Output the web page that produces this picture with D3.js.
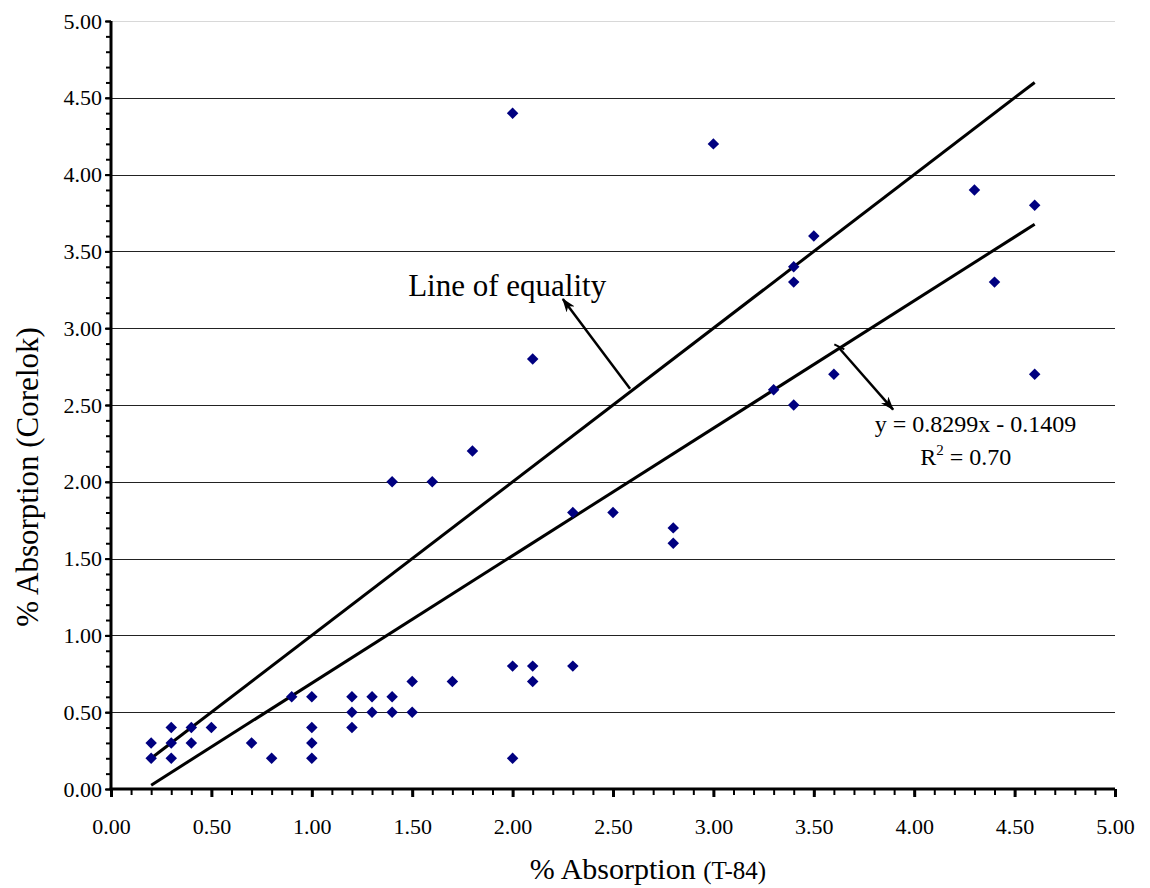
<!DOCTYPE html>
<html>
<head>
<meta charset="utf-8">
<script src="https://cdn.jsdelivr.net/npm/d3@7"></script>
<style>
  body { margin: 0; background: #fff; }
  text { font-family: "Liberation Serif", "Times New Roman", serif; fill: #000; }
</style>
</head>
<body>
<div id="chart"></div>
<script>
// measured values (% absorption, T-84 vs Corelok)
var t84 = [0.2, 0.2, 0.3, 0.3, 0.3, 0.4, 0.4, 0.5, 0.7, 0.8, 0.9, 1.0, 1.0, 1.0, 1.0,
           1.2, 1.2, 1.2, 1.3, 1.3, 1.4, 1.4, 1.5, 1.5, 1.7, 2.0, 2.0, 2.1, 2.1, 2.3,
           2.0, 3.0, 4.3, 4.6, 3.5, 3.4, 3.4, 4.4, 2.1, 3.6, 4.6, 3.3, 3.4, 1.8, 1.4,
           1.6, 2.3, 2.5, 2.8, 2.8];
var corelok = [0.3, 0.2, 0.4, 0.3, 0.2, 0.4, 0.3, 0.4, 0.3, 0.2, 0.6, 0.6, 0.4, 0.3, 0.2,
               0.6, 0.5, 0.4, 0.6, 0.5, 0.6, 0.5, 0.7, 0.5, 0.7, 0.8, 0.2, 0.8, 0.7, 0.8,
               4.4, 4.2, 3.9, 3.8, 3.6, 3.4, 3.3, 3.3, 2.8, 2.7, 2.7, 2.6, 2.5, 2.2, 2.0,
               2.0, 1.8, 1.8, 1.7, 1.6];
var slope = 0.8299, intercept = -0.1409;
var lineRange = [0.2, 4.6];
var tickLabels = ["0.00", "0.50", "1.00", "1.50", "2.00", "2.50", "3.00", "3.50", "4.00", "4.50", "5.00"];

var W = 1150, H = 888;
var m = {left: 111, top: 21, right: 35, bottom: 99};
var w = W - m.left - m.right, h = H - m.top - m.bottom;

var x = d3.scaleLinear().domain([0, 5]).range([0, w]);
var y = d3.scaleLinear().domain([0, 5]).range([h, 0]);

var svg = d3.select("#chart").append("svg")
    .attr("width", W)
    .attr("height", H)
    .attr("font-family", "Liberation Serif");

var defs = svg.append("defs");
defs.append("marker")
    .attr("id", "arrow")
    .attr("viewBox", "0 0 14 10")
    .attr("refX", 13).attr("refY", 5)
    .attr("markerWidth", 14).attr("markerHeight", 10)
    .attr("markerUnits", "userSpaceOnUse")
    .attr("orient", "auto")
    .append("path")
    .attr("d", "M0,0 L14,5 L0,10 L4,5 Z")
    .attr("fill", "#000");

var g = svg.append("g").attr("transform", "translate(" + m.left + "," + m.top + ")");

// horizontal gridlines
g.selectAll(".grid")
  .data(d3.range(0.5, 5.01, 0.5))
  .enter().append("line")
    .attr("x1", 0).attr("x2", w)
    .attr("y1", d => Math.round(y(d)) + 0.5)
    .attr("y2", d => Math.round(y(d)) + 0.5)
    .attr("stroke", d => d >= 5 ? "#d8d8d8" : "#222")
    .attr("stroke-width", 1);

// minor ticks
var minor = d3.range(0, 50.5, 1).map(d => d / 10);
g.append("g")
    .attr("transform", "translate(0," + h + ")")
    .call(d3.axisBottom(x).tickValues(minor).tickSize(6).tickFormat(""))
    .call(a => a.select(".domain").remove())
    .selectAll("line").attr("stroke-width", 2);
g.append("g")
    .call(d3.axisLeft(y).tickValues(minor).tickSize(5).tickFormat(""))
    .call(a => a.select(".domain").remove())
    .selectAll("line").attr("stroke-width", 2);

// major ticks + labels
var major = d3.range(0, 11).map(d => d / 2);
var xAxis = g.append("g")
    .attr("transform", "translate(0," + h + ")")
    .call(d3.axisBottom(x).tickValues(major).tickSize(8).tickPadding(21)
      .tickFormat((d, i) => tickLabels[i]));
xAxis.attr("font-family", "Liberation Serif");
xAxis.select(".domain").remove();
xAxis.selectAll("line").attr("stroke-width", 3);
xAxis.selectAll("text").style("font-size", "22px");

var yAxis = g.append("g")
    .call(d3.axisLeft(y).tickValues(major).tickSize(6).tickPadding(3)
      .tickFormat((d, i) => tickLabels[i]));
yAxis.attr("font-family", "Liberation Serif");
yAxis.select(".domain").remove();
yAxis.selectAll("line").attr("stroke-width", 2);
yAxis.selectAll("text").style("font-size", "22px");

// axis lines
g.append("line").attr("x1", 0).attr("x2", 0).attr("y1", 0).attr("y2", h)
    .attr("stroke", "#000").attr("stroke-width", 3);
g.append("line").attr("x1", -1.5).attr("x2", w).attr("y1", h).attr("y2", h)
    .attr("stroke", "#000").attr("stroke-width", 3);

// line of equality and trend line
g.append("line")
    .attr("x1", x(lineRange[0])).attr("y1", y(lineRange[0]))
    .attr("x2", x(lineRange[1])).attr("y2", y(lineRange[1]))
    .attr("stroke", "#000").attr("stroke-width", 3);
g.append("line")
    .attr("x1", x(lineRange[0])).attr("y1", y(slope * lineRange[0] + intercept))
    .attr("x2", x(lineRange[1])).attr("y2", y(slope * lineRange[1] + intercept))
    .attr("stroke", "#000").attr("stroke-width", 3);

// points
var pts = t84.map((d, i) => [d, corelok[i]]);
g.selectAll(".pt")
  .data(pts)
  .enter().append("path")
    .attr("d", d3.symbol().type(d3.symbolSquare).size(66))
    .attr("transform", d => "translate(" + x(d[0]) + "," + y(d[1]) + ") rotate(45)")
    .attr("fill", "#000080");

// annotations
g.append("line")
    .attr("x1", x(2.585)).attr("y1", y(2.605))
    .attr("x2", x(2.25)).attr("y2", y(3.19))
    .attr("stroke", "#000").attr("stroke-width", 2.5)
    .attr("marker-end", "url(#arrow)");
g.append("text")
    .attr("x", x(1.48)).attr("y", y(3.21))
    .style("font-size", "31px")
    .text("Line of equality");

var ax0 = 3.627;
g.append("line")
    .attr("x1", x(ax0)).attr("y1", y(slope * ax0 + intercept))
    .attr("x2", x(3.895)).attr("y2", y(2.47))
    .attr("stroke", "#000").attr("stroke-width", 2.5)
    .attr("marker-end", "url(#arrow)");
g.append("line")
    .attr("x1", x(ax0) - 5).attr("y1", y(slope * ax0 + intercept) - 4)
    .attr("x2", x(ax0) + 5).attr("y2", y(slope * ax0 + intercept) + 1)
    .attr("stroke", "#000").attr("stroke-width", 2);

g.append("text")
    .attr("x", x(4.305)).attr("y", y(2.327))
    .attr("text-anchor", "middle")
    .style("font-size", "24px")
    .text("y = " + slope + "x - " + Math.abs(intercept));
var r2 = g.append("text")
    .attr("x", x(4.257)).attr("y", y(2.11))
    .attr("text-anchor", "middle")
    .style("font-size", "24px");
r2.append("tspan").text("R");
r2.append("tspan").attr("dy", -10).style("font-size", "15px").text("2");
r2.append("tspan").attr("dy", 10).text(" = 0.70");

// axis titles
svg.append("text")
    .attr("transform", "translate(38," + (m.top + h / 2 + 72) + ") rotate(-90)")
    .attr("text-anchor", "middle")
    .style("font-size", "31px")
    .text("% Absorption (Corelok)");

var xt = svg.append("text")
    .attr("x", 648).attr("y", 879)
    .attr("text-anchor", "middle");
xt.append("tspan").style("font-size", "30px").text("% Absorption ");
xt.append("tspan").style("font-size", "25px").text("(T-84)");
</script>
</body>
</html>
